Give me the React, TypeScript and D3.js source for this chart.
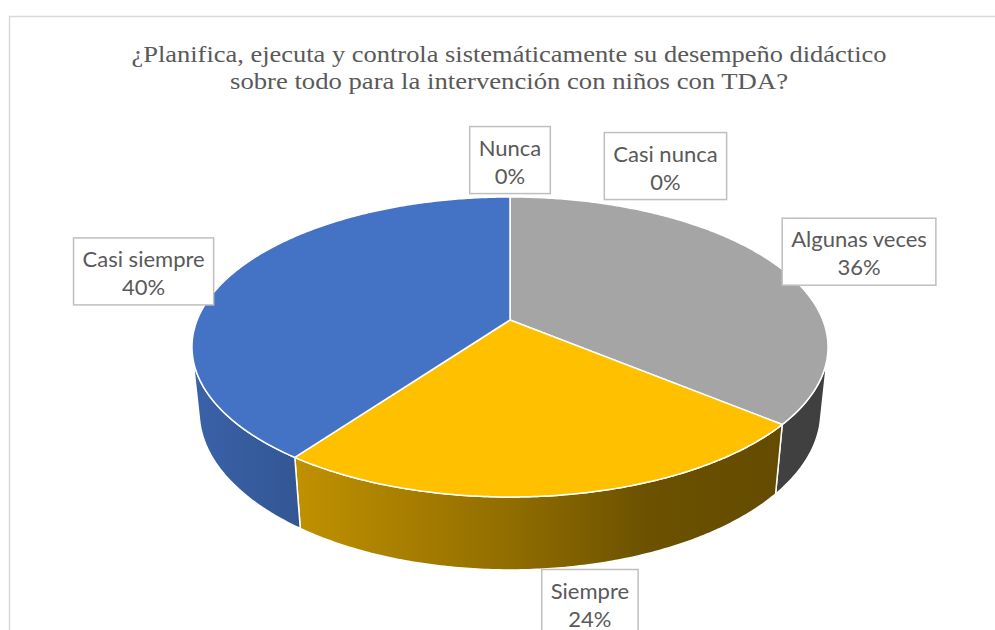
import React, { useRef, useEffect } from 'react';
import * as d3 from 'd3';

// survey answers (percent)
const categories = ['Nunca', 'Casi nunca', 'Algunas veces', 'Siempre', 'Casi siempre'];
const percentages = [0, 0, 36, 24, 40];
const sliceColors = ['#5B9BD5', '#ED7D31', '#A5A5A5', '#FFC000', '#4472C4'];
const titleLines = [
  '¿Planifica, ejecuta y controla sistemáticamente su desempeño didáctico',
  'sobre todo para la intervención con niños con TDA?',
];

const width = 995;
const height = 630;

const App: React.FC = () => {
  const svgRef = useRef<SVGSVGElement | null>(null);

  useEffect(() => {
    const svg = d3.select(svgRef.current);
    svg.selectAll('*').remove();

    // chart frame
    svg.append('rect')
      .attr('x', 9.5).attr('y', 16.5)
      .attr('width', width + 20).attr('height', height + 20)
      .attr('fill', 'white')
      .attr('stroke', '#D9D9D9')
      .attr('stroke-width', 1.5);

    // title
    const titleLen = [755, 558];
    svg.append('g')
      .selectAll('text')
      .data(titleLines)
      .enter()
      .append('text')
      .attr('x', 509)
      .attr('y', (d, i) => 62 + i * 27)
      .attr('text-anchor', 'middle')
      .attr('font-family', '"Liberation Serif", "Times New Roman", serif')
      .attr('font-size', '23px')
      .attr('fill', '#595959')
      .attr('textLength', (d, i) => titleLen[i])
      .attr('lengthAdjust', 'spacingAndGlyphs')
      .text(d => d);

    // perspective projection of the pie (angle from 12 o'clock, clockwise)
    const cx = 510, cy = 320;
    const R = 0.203, H = 0.0479, F = 1541;
    const tilt = Math.asin(0.464);
    const sA = Math.sin(tilt), cA = Math.cos(tilt);
    const proj = (a: number, r: number, z: number): [number, number] => {
      const x = r * R * Math.sin(a);
      const y = r * R * Math.cos(a);
      const depth = 1 + y * cA - z * sA;
      return [cx + (F * x) / depth, cy - (F * (y * sA + z * cA)) / depth];
    };

    const arcs = d3.pie<number>().sort(null).value(d => d)(percentages);
    const visA0 = Math.acos(-R / cA);
    const visA1 = 2 * Math.PI - visA0;
    const sample = (a0: number, a1: number) => {
      const n = Math.max(2, Math.ceil((a1 - a0) / 0.01));
      return d3.range(n + 1).map(i => a0 + ((a1 - a0) * i) / n);
    };
    const line = d3.line<[number, number]>();

    // shading for walls (light from the left)
    const defs = svg.append('defs');
    const shade = [[0, 0.86], [0.17, 0.75], [0.5, 0.57], [0.72, 0.42], [1, 0.38]];
    arcs.forEach((d, i) => {
      const base = d3.rgb(sliceColors[i]);
      const grad = defs.append('linearGradient')
        .attr('id', `wall-${i}`)
        .attr('gradientUnits', 'userSpaceOnUse')
        .attr('x1', proj(visA1, 1, 0)[0]).attr('x2', proj(visA0, 1, 0)[0])
        .attr('y1', 0).attr('y2', 0);
      shade.forEach(([t, k]) => {
        grad.append('stop')
          .attr('offset', t)
          .attr('stop-color', d3.rgb(base.r * k, base.g * k, base.b * k).formatHex());
      });
    });

    const pieG = svg.append('g');

    // outer walls
    arcs.forEach((d, i) => {
      const a0 = Math.max(d.startAngle, visA0);
      const a1 = Math.min(d.endAngle, visA1);
      if (a1 - a0 <= 0) return;
      const angles = sample(a0, a1);
      const pts = angles.map(a => proj(a, 1, 0))
        .concat(angles.slice().reverse().map(a => proj(a, 1, -H)));
      pieG.append('path')
        .attr('d', line(pts) + 'Z')
        .attr('fill', `url(#wall-${i})`)
        .attr('stroke', 'white')
        .attr('stroke-width', 1.5)
        .attr('stroke-linejoin', 'round');
    });

    // top faces
    arcs.forEach((d, i) => {
      if (d.endAngle - d.startAngle <= 0) return;
      const pts = [proj(0, 0, 0)].concat(sample(d.startAngle, d.endAngle).map(a => proj(a, 1, 0)));
      pieG.append('path')
        .attr('d', line(pts) + 'Z')
        .attr('fill', sliceColors[i])
        .attr('stroke', 'white')
        .attr('stroke-width', 1.5)
        .attr('stroke-linejoin', 'round');
    });

    // data labels
    const apex = proj(0, 0, 0);
    const wallDrop = proj(Math.PI, 1, -H)[1] - proj(Math.PI, 1, 0)[1];
    const boxH = 67;
    const placed: { x0: number; x1: number; y0: number; y1: number }[] = [];
    const labelG = svg.append('g');

    arcs.forEach((d, i) => {
      const mid = (d.startAngle + d.endAngle) / 2;
      const rim = proj(mid, 1, 0);
      const front = Math.max(0, -Math.cos(mid));
      let x = apex[0] + 1.3 * (rim[0] - apex[0]) + 17 * front + 8 * Math.max(0, Math.sin(mid));
      let y = apex[1] + 1.3 * (rim[1] - apex[1]) + wallDrop * 0.75 * front + 7 * Math.abs(Math.sin(mid));

      const g = labelG.append('g');
      const rect = g.append('rect');
      const lines = [categories[i], `${percentages[i]}%`];
      const texts = g.selectAll('text')
        .data(lines)
        .enter()
        .append('text')
        .attr('text-anchor', 'middle')
        .attr('font-family', 'Lato, "Open Sans", sans-serif')
        .attr('font-size', '22px')
        .attr('fill', '#595959')
        .text(t => t);
      let w = 0;
      texts.each(function () {
        w = Math.max(w, (this as SVGTextElement).getComputedTextLength());
      });
      const boxW = w + 18;

      // push right if it collides with an earlier label
      const hit = placed.find(p => x - boxW / 2 < p.x1 && x + boxW / 2 > p.x0 && y - boxH / 2 < p.y1 && y + boxH / 2 > p.y0);
      if (hit) {
        x = hit.x1 + 54 + boxW / 2;
        y += 6;
      }
      placed.push({ x0: x - boxW / 2, x1: x + boxW / 2, y0: y - boxH / 2, y1: y + boxH / 2 });

      rect
        .attr('x', x - boxW / 2).attr('y', y - boxH / 2)
        .attr('width', boxW).attr('height', boxH)
        .attr('fill', 'white')
        .attr('stroke', '#BFBFBF')
        .attr('stroke-width', 1.5);
      texts
        .attr('x', x)
        .attr('y', (t, j) => y - boxH / 2 + 29 + j * 28);
    });
  }, []);

  return (
    <svg
      ref={svgRef}
      width={width}
      height={height}
      style={{ position: 'absolute', left: 0, top: 0, background: 'white' }}
    />
  );
};

export default App;
